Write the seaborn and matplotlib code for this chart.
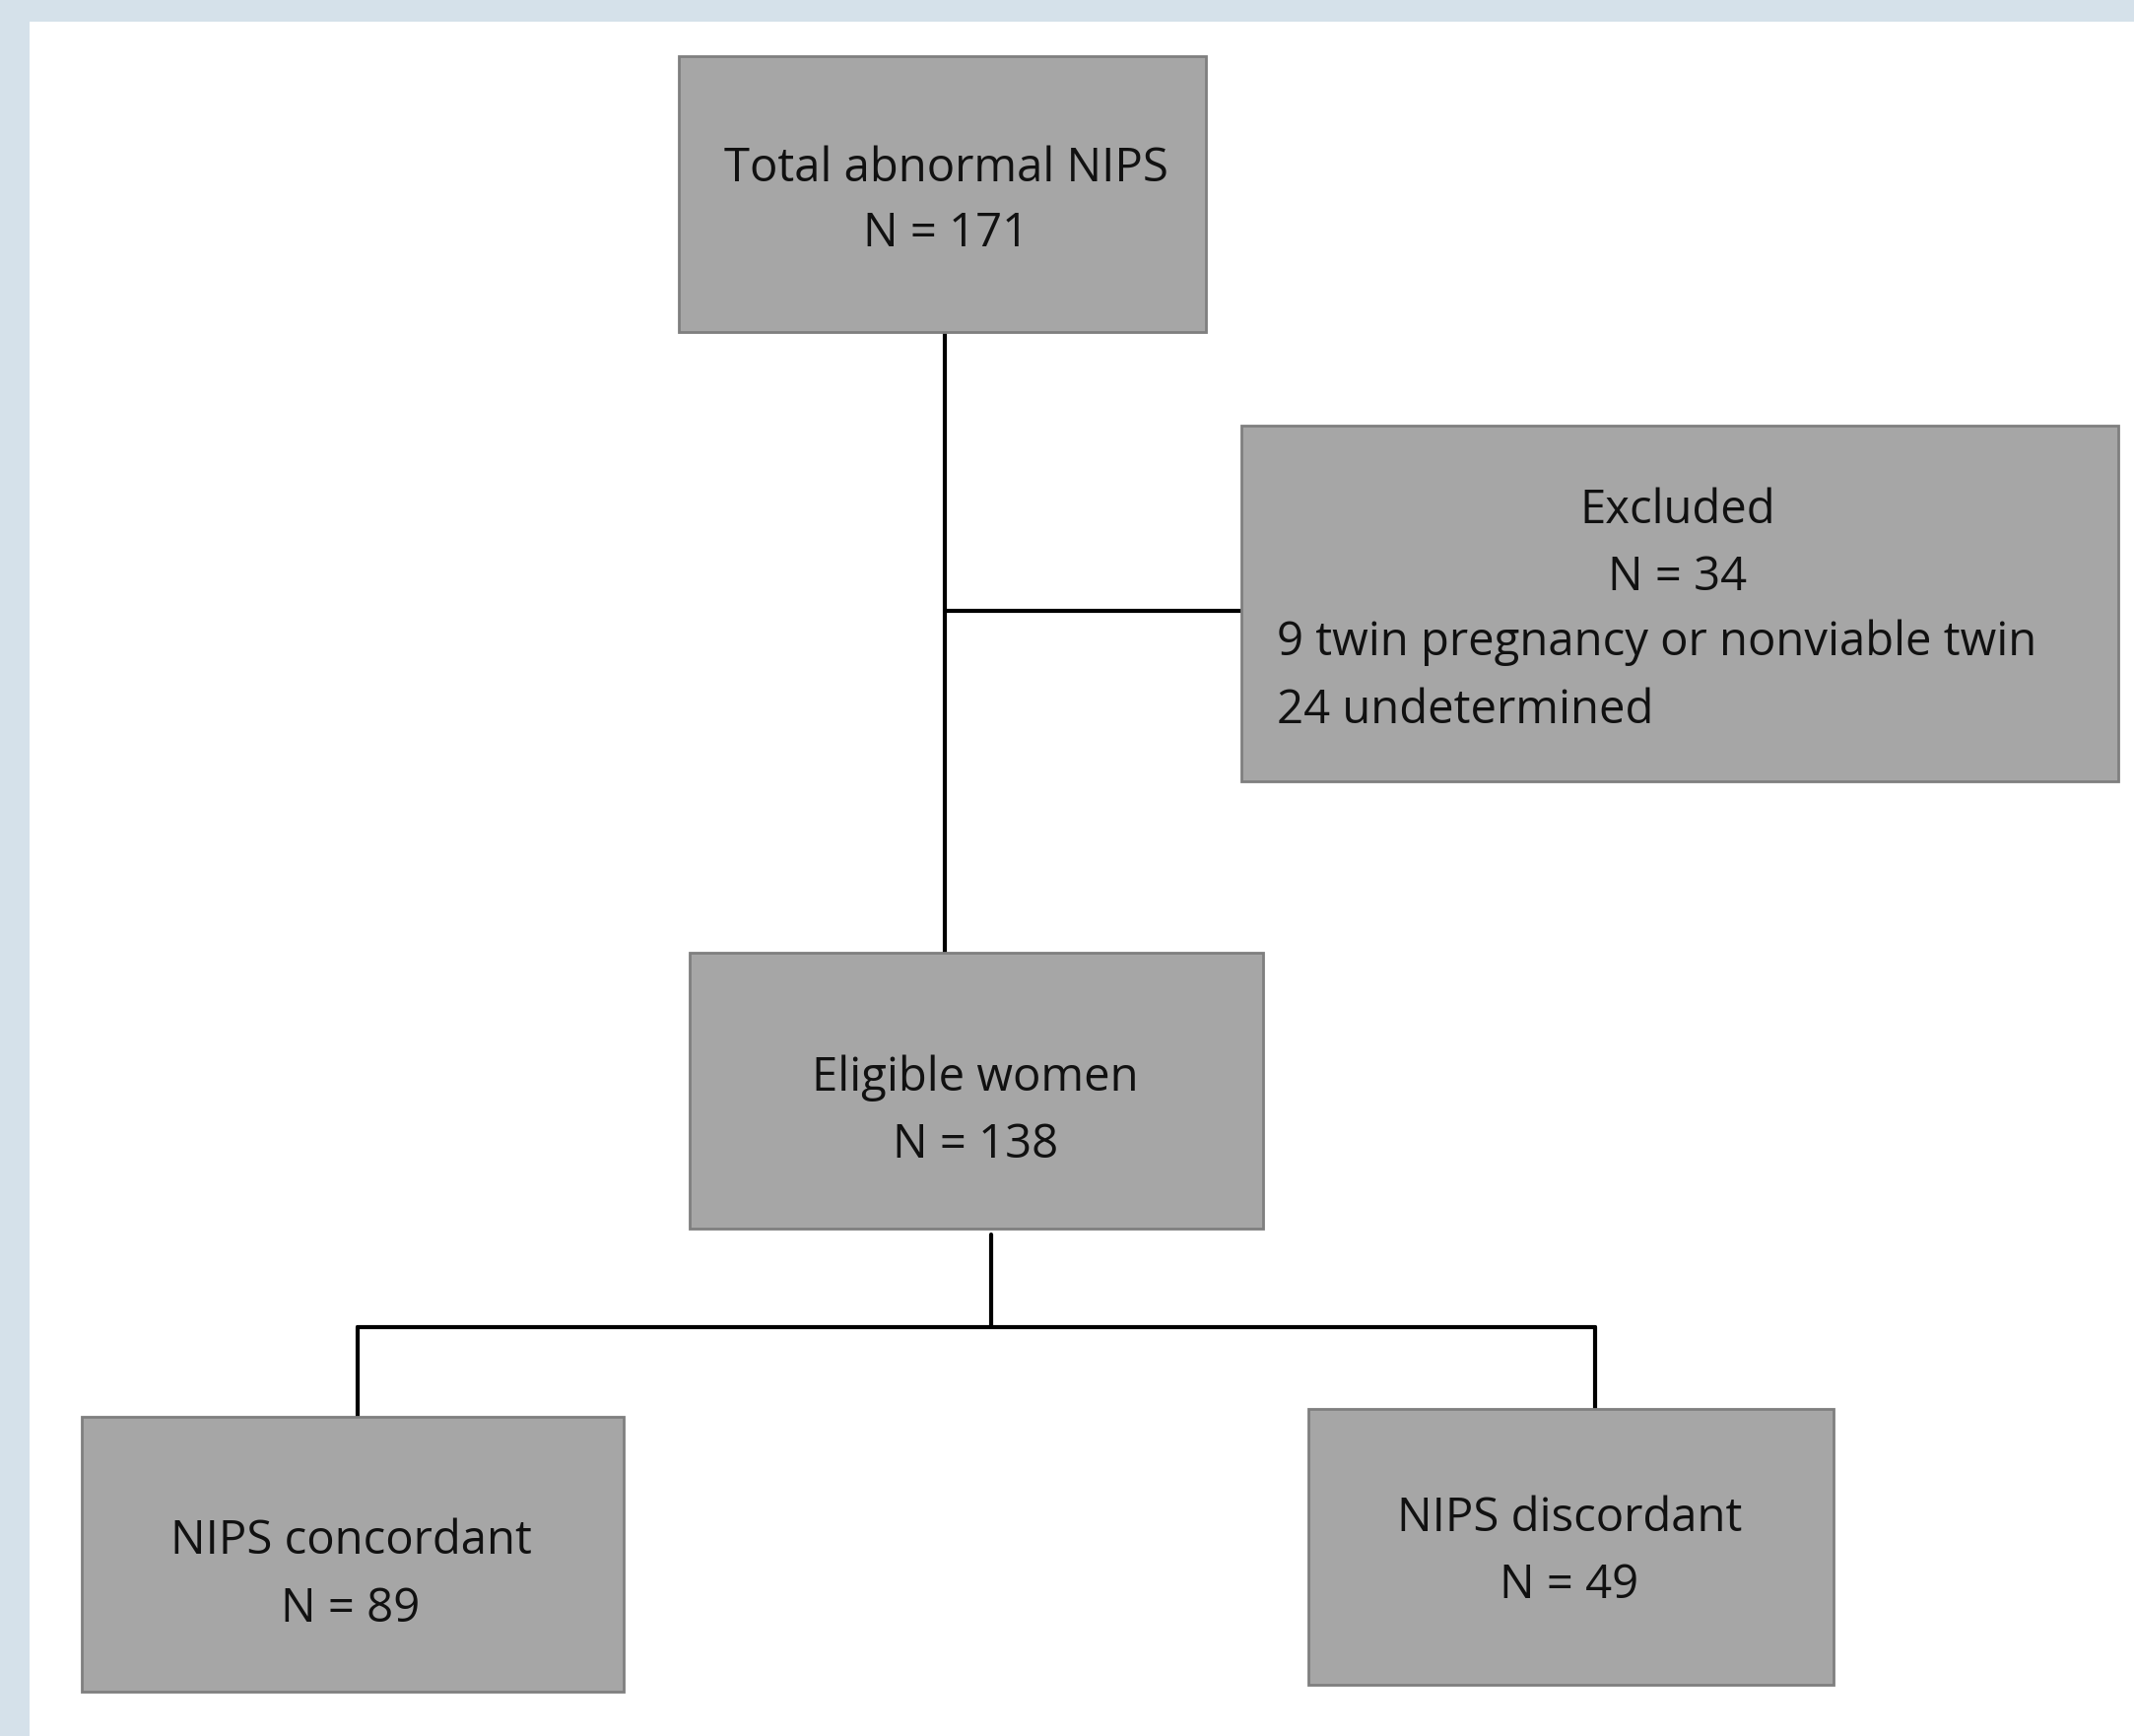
import matplotlib
matplotlib.use("Agg")
import matplotlib.pyplot as plt
from matplotlib.patches import Rectangle
import seaborn as sns

# ---- data ----
box_titles = ["Total abnormal NIPS", "Excluded", "Eligible women", "NIPS concordant", "NIPS discordant"]
box_counts = [171, 34, 138, 89, 49]
excluded_reasons = ["9 twin pregnancy or nonviable twin", "24 undetermined"]

# ---- layout (pixels, origin top-left) ----
W, H = 2166, 1762
boxes = [  # x0, y0, x1, y1
    (689, 57, 1224, 337),
    (1260, 432, 2150, 793),
    (700, 967, 1282, 1247),
    (83, 1438, 633, 1717),
    (1328, 1430, 1861, 1710),
]
text_pos = [  # center x, title y, N y
    (960, 171, 237),
    (1703, 518, 586),
    (990, 1094, 1162),
    (356, 1564, 1633),
    (1593, 1541, 1609),
]
reason_x = 1296
reason_y = [652, 721]

connectors = [
    ((959, 959), (337, 967)),
    ((959, 1260), (620, 620)),
    ((1006, 1006), (1253, 1347)),
    ((363, 1619), (1347, 1347)),
    ((363, 363), (1347, 1438)),
    ((1619, 1619), (1347, 1430)),
]

sns.set_theme(style="white")
plt.rcParams['font.family'] = ['Open Sans', 'DejaVu Sans']

fig = plt.figure(figsize=(W / 100, H / 100), dpi=100, facecolor="#d5e1ea")
ax = fig.add_axes([0, 0, 1, 1])
ax.set_xlim(0, W)
ax.set_ylim(H, 0)
ax.axis("off")
ax.set_facecolor("none")

ax.add_patch(Rectangle((30, 22), W - 30, H - 22, facecolor="white", edgecolor="none", zorder=0))

for xs, ys in connectors:
    sns.lineplot(x=list(xs), y=list(ys), ax=ax, color="black", linewidth=3.0,
                 estimator=None, sort=False, zorder=1)

fs = 34
for (x0, y0, x1, y1), title, n, (cx, ty, ny) in zip(boxes, box_titles, box_counts, text_pos):
    ax.add_patch(Rectangle((x0, y0), x1 - x0, y1 - y0, facecolor="#a6a6a6",
                           edgecolor="#7f7f7f", linewidth=2, zorder=2))
    ax.text(cx, ty, title, ha="center", va="center", fontsize=fs, color="#111111", zorder=3)
    ax.text(cx, ny, f"N = {n}", ha="center", va="center", fontsize=fs, color="#111111", zorder=3)

for r, y in zip(excluded_reasons, reason_y):
    ax.text(reason_x, y, r, ha="left", va="center", fontsize=fs, color="#111111", zorder=3)

fig.savefig("out.png", dpi=100, facecolor=fig.get_facecolor())
